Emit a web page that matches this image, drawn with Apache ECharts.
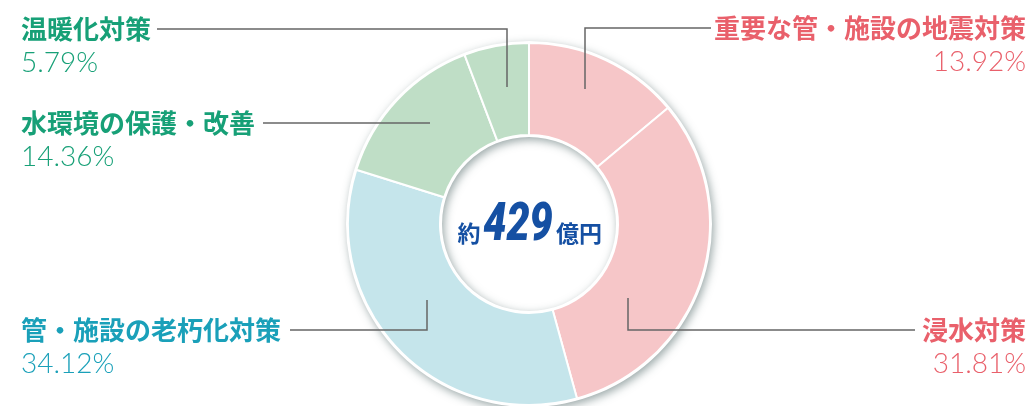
<!DOCTYPE html>
<html>
<head>
<meta charset="utf-8">
<script src="https://cdn.jsdelivr.net/npm/echarts@6/dist/echarts.min.js"></script>
<style>
  html, body { margin: 0; padding: 0; background: #fff; }
  #chart { width: 1030px; height: 406px; }
</style>
</head>
<body>
<div id="chart"></div>
<script>
// --- data (clockwise from 12 o'clock) ---
const categories = ['重要な管・施設の地震対策', '浸水対策', '管・施設の老朽化対策', '水環境の保護・改善', '温暖化対策']
const shares = [13.92, 31.81, 34.12, 14.36, 5.79]
const totalOku = 429

// --- look ---
const sliceColors = ['#f6c6c8', '#f6c6c8', '#c5e5eb', '#bfdec6', '#bfdec6']
const textColors = ['#e9606b', '#e9606b', '#1aa0b9', '#17a077', '#17a077']
const totalColor = '#1550a3'

const CENTER = [529, 224]
const R_IN = 89
const R_OUT = 181

// label boxes (top of name line) and leader lines, per slice
const labelPos = [
  { x: 1026, y: 11, align: 'right' },
  { x: 1026, y: 313, align: 'right' },
  { x: 21, y: 313, align: 'left' },
  { x: 21, y: 106, align: 'left' },
  { x: 21, y: 12, align: 'left' },
]
const leaderLines = [
  [[711, 28], [585, 28], [585, 89]],
  [[915, 330], [628, 330], [628, 298]],
  [[290, 330], [427, 330], [427, 300]],
  [[263, 123], [430, 123]],
  [[157, 29], [507, 29], [507, 87]],
]

const CJK = '"Noto Sans CJK JP", "Noto Sans", sans-serif'

const chart = echarts.init(document.getElementById('chart'))

const pieData = categories.map((name, i) => ({
  name,
  value: shares[i],
  itemStyle: { color: sliceColors[i] },
  label: {
    align: labelPos[i].align,
    rich: {
      n: { fontFamily: CJK, fontWeight: 'bold', fontSize: 26, lineHeight: 34, color: textColors[i], align: labelPos[i].align },
      p: { fontFamily: 'Lato, "Open Sans", sans-serif', fontWeight: 300, fontSize: 28, lineHeight: 34, color: textColors[i], align: labelPos[i].align },
    },
  },
}))

// centre caption: 約 / 429 / 億円, digits condensed
const cjkCaption = (text, dx) => ({
  type: 'text',
  z: 100,
  silent: true,
  x: CENTER[0] + dx,
  y: CENTER[1] + 9,
  style: {
    text,
    align: 'center',
    verticalAlign: 'middle',
    fill: totalColor,
    fontFamily: CJK,
    fontWeight: 'bold',
    fontSize: 23,
  },
})

chart.setOption({
  animation: false,
  backgroundColor: '#ffffff',
  graphic: [
    // white backing ring that throws the soft shadow around the donut
    {
      type: 'ring',
      z: 1,
      silent: true,
      shape: { cx: CENTER[0], cy: CENTER[1], r: R_OUT + 2, r0: R_IN - 2 },
      style: {
        fill: '#ffffff',
        shadowBlur: 8,
        shadowOffsetX: 2,
        shadowOffsetY: 3,
        shadowColor: 'rgba(60, 85, 85, 0.5)',
      },
    },
    cjkCaption('約', -60),
    {
      type: 'text',
      z: 100,
      silent: true,
      x: CENTER[0] - 11,
      y: CENTER[1] + 3,
      scaleX: 0.78,
      style: {
        text: String(totalOku),
        align: 'center',
        verticalAlign: 'middle',
        fill: totalColor,
        fontFamily: 'Roboto, "Liberation Sans", sans-serif',
        fontWeight: 900,
        fontStyle: 'italic',
        fontSize: 53,
      },
    },
    cjkCaption('億円', 50),
    ...leaderLines.map((pts) => ({
      type: 'polyline',
      z: 100,
      silent: true,
      shape: { points: pts },
      style: { stroke: '#666666', lineWidth: 1.5, fill: null },
    })),
  ],
  series: [
    {
      type: 'pie',
      z: 2,
      center: CENTER,
      radius: [R_IN, R_OUT],
      startAngle: 90,
      clockwise: true,
      avoidLabelOverlap: false,
      silent: true,
      itemStyle: { borderColor: '#ffffff', borderWidth: 2 },
      label: {
        show: true,
        position: 'outside',
        formatter: (p) => '{n|' + p.name + '}\n{p|' + p.value.toFixed(2) + '%}',
      },
      labelLine: { show: false },
      labelLayout: (params) => {
        const pos = labelPos[params.dataIndex]
        return { x: pos.x, y: pos.y, align: pos.align, verticalAlign: 'top' }
      },
      data: pieData,
    },
  ],
})
</script>
</body>
</html>
